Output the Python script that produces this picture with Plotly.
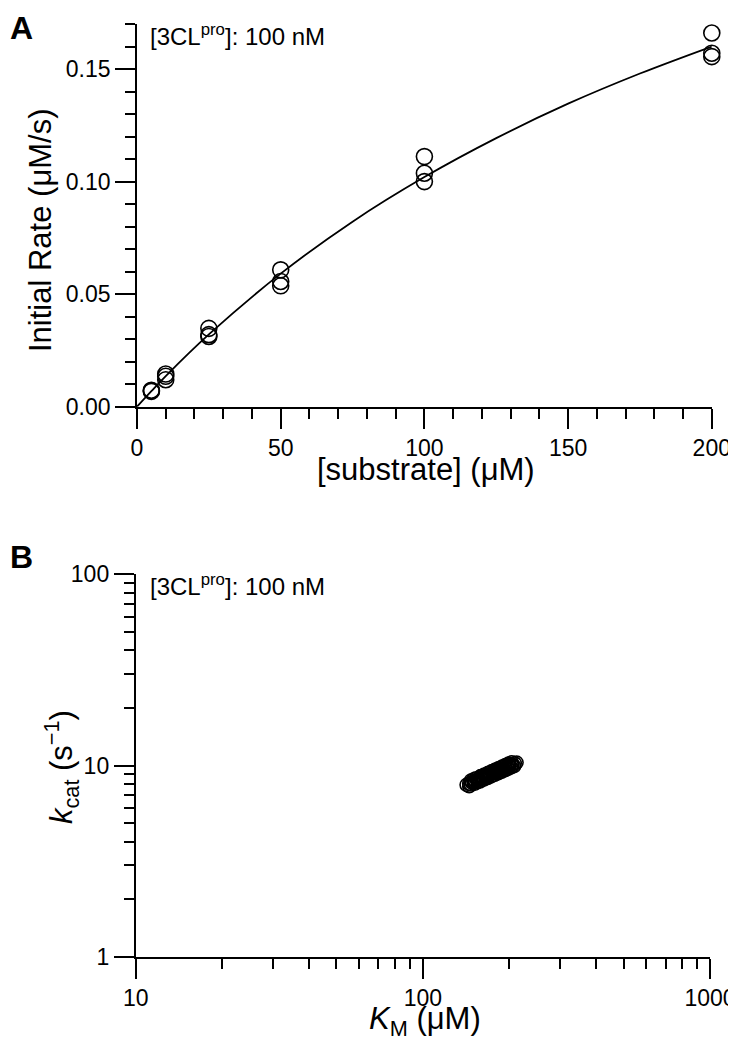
import plotly.graph_objects as go

# ---------------- Panel A data ----------------
substrate_uM = [5, 5, 5, 10, 10, 10, 25, 25, 25, 50, 50, 50, 100, 100, 100, 200, 200, 200]
rate_uM_s = [0.0068, 0.0071, 0.0073, 0.0120, 0.0135, 0.0145, 0.0312, 0.0320, 0.0348,
             0.0537, 0.0556, 0.0608, 0.1000, 0.1037, 0.1111, 0.1555, 0.1570, 0.1660]

fit_x = [0, 5, 10, 25, 50, 75, 100, 125, 150, 175, 200]
fit_y = [0.0, 0.0069, 0.0136, 0.0321, 0.0591, 0.0822, 0.1020, 0.1193, 0.1346, 0.1480, 0.1600]

# ---------------- Panel B data ----------------
km_uM = [142, 145, 148, 150, 152, 155, 157, 160, 162, 165, 167, 170, 172, 175, 178,
         180, 183, 186, 190, 193, 197, 200, 205, 209, 212,
         150, 155, 160, 165, 170, 175, 180, 185, 190, 195, 200, 205,
         147, 158, 168, 178, 188, 198,
         145, 152, 158, 163, 168, 173, 178, 183, 188, 193, 198, 203, 208,
         147, 153, 159, 164, 169, 174, 179, 184, 189, 194, 199, 204]
kcat_s = [7.92, 8.03, 8.14, 8.22, 8.29, 8.40, 8.47, 8.58, 8.65, 8.76, 8.83, 8.94, 9.01, 9.11, 9.22,
          9.29, 9.39, 9.49, 9.63, 9.73, 9.87, 9.97, 10.13, 10.26, 10.36,
          8.45, 8.20, 8.80, 8.55, 9.15, 8.90, 9.50, 9.25, 9.85, 9.60, 10.20, 9.95,
          7.95, 8.70, 8.75, 9.40, 9.45, 10.05,
          7.79, 8.04, 8.25, 8.43, 8.60, 8.77, 8.94, 9.11, 9.27, 9.44, 9.60, 9.77, 9.92,
          8.34, 8.58, 8.80, 8.98, 9.17, 9.35, 9.53, 9.70, 9.88, 10.06, 10.24, 10.40]

FONT = "Liberation Sans, Arial, sans-serif"
OFF = 8            # default page margin of the html body
W, H = 728, 1034   # figure size inside the page


def px_x(v):
    return (v - OFF) / W


def px_y(v):
    return 1 - (v - OFF) / H


fig = go.Figure()

fig.add_trace(go.Scatter(x=fit_x, y=fit_y, mode="lines", line=dict(color="black", width=1.8, shape="spline"),
                         xaxis="x", yaxis="y", showlegend=False, hoverinfo="skip"))
fig.add_trace(go.Scatter(x=substrate_uM, y=rate_uM_s, mode="markers",
                         marker=dict(symbol="circle-open", size=16, color="black", line=dict(width=1.6)),
                         xaxis="x", yaxis="y", showlegend=False, cliponaxis=False))
fig.add_trace(go.Scatter(x=km_uM, y=kcat_s, mode="markers",
                         marker=dict(symbol="circle-open", size=13, color="black", line=dict(width=1.6)),
                         xaxis="x2", yaxis="y2", showlegend=False))

axis_common = dict(showline=True, linecolor="black", linewidth=1.8, ticks="outside", ticklen=20,
                   tickwidth=1.8, tickcolor="black", showgrid=False, zeroline=False, automargin=False,
                   tickfont=dict(family=FONT, size=23, color="black"), mirror=False)

fig.update_layout(
    width=W, height=H, margin=dict(l=0, r=0, t=0, b=0, autoexpand=False),
    paper_bgcolor="white", plot_bgcolor="white",
    font=dict(family=FONT, color="black"),
    xaxis=dict(axis_common, domain=[px_x(137), px_x(711.8)], anchor="y", range=[0, 200], dtick=50,
               minor=dict(ticks="outside", ticklen=10, dtick=10, tickwidth=1.8, tickcolor="black")),
    yaxis=dict(axis_common, domain=[px_y(406.7), px_y(24)], anchor="x", range=[0, 0.17], dtick=0.05,
               tickformat=".2f",
               minor=dict(ticks="outside", ticklen=10, dtick=0.01, tickwidth=1.8, tickcolor="black")),
    xaxis2=dict(axis_common, domain=[px_x(135.7), px_x(710)], anchor="y2", type="log", range=[1, 3], dtick=1,
                minor=dict(ticks="outside", ticklen=10, dtick="D1", tickwidth=1.8, tickcolor="black")),
    yaxis2=dict(axis_common, domain=[px_y(956.7), px_y(574.3)], anchor="x2", type="log", range=[0, 2], dtick=1,
                minor=dict(ticks="outside", ticklen=10, dtick="D1", tickwidth=1.8, tickcolor="black")),
)

ann = []
# panel letters
ann.append(dict(text="<b>A</b>", x=px_x(OFF), y=1, xref="paper", yref="paper", xanchor="left",
                yanchor="top", showarrow=False, font=dict(family=FONT, size=32, color="black")))
ann.append(dict(text="<b>B</b>", x=px_x(OFF), y=px_y(557), xref="paper", yref="paper", xanchor="left",
                yanchor="middle", showarrow=False, font=dict(family=FONT, size=32, color="black")))
# enzyme concentration labels
for yc in (35, 585):
    ann.append(dict(text="[3CL<sup>pro</sup>]: 100 nM", x=px_x(148), y=px_y(yc), xref="paper", yref="paper",
                    xanchor="left", yanchor="middle", showarrow=False,
                    font=dict(family=FONT, size=24, color="black")))
# axis titles
ann.append(dict(text="[substrate] (μM)", x=px_x(426), y=px_y(469), xref="paper", yref="paper",
                xanchor="center", yanchor="middle", showarrow=False, font=dict(family=FONT, size=31, color="black")))
ann.append(dict(text="Initial Rate (μM/s)", x=px_x(40), y=px_y(230), xref="paper", yref="paper", textangle=-90,
                xanchor="center", yanchor="middle", showarrow=False, font=dict(family=FONT, size=31, color="black")))
ann.append(dict(text="<i>K</i><sub>M</sub> (μM)", x=px_x(425), y=px_y(1021), xref="paper", yref="paper",
                xanchor="center", yanchor="middle", showarrow=False, font=dict(family=FONT, size=31, color="black")))
ann.append(dict(text="<i>k</i><sub>cat</sub> (s<sup>−1</sup>)", x=px_x(61), y=px_y(767), xref="paper", yref="paper",
                textangle=-90, xanchor="center", yanchor="middle", showarrow=False,
                font=dict(family=FONT, size=31, color="black")))
fig.update_layout(annotations=ann)

fig.write_html("out.html")
